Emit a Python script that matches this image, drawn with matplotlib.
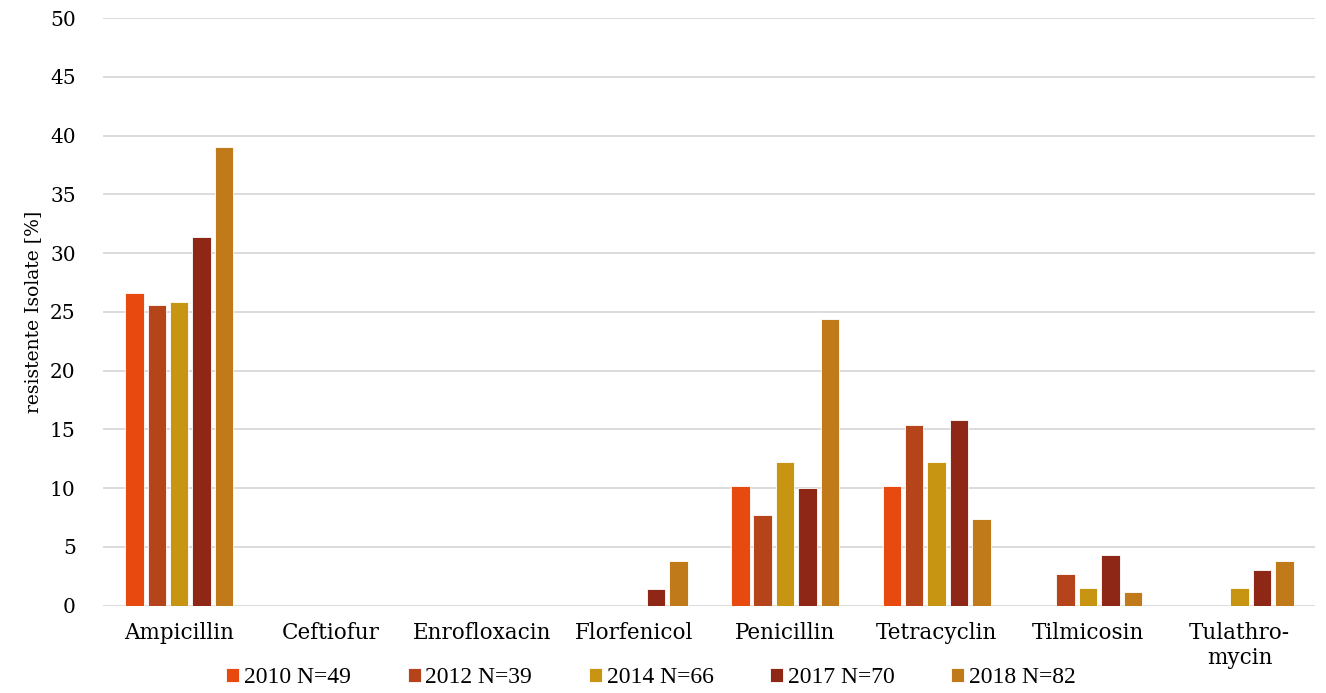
import matplotlib
matplotlib.use("Agg")
import matplotlib.pyplot as plt
import numpy as np

# data
categories = ["Ampicillin", "Ceftiofur", "Enrofloxacin", "Florfenicol",
              "Penicillin", "Tetracyclin", "Tilmicosin", "Tulathro-\nmycin"]
series = ["2010 N=49", "2012 N=39", "2014 N=66", "2017 N=70", "2018 N=82"]
v2010 = [26.6, 0, 0, 0, 10.2, 10.2, 0, 0]
v2012 = [25.6, 0, 0, 0, 7.7, 15.4, 2.7, 0]
v2014 = [25.8, 0, 0, 0, 12.2, 12.2, 1.5, 1.5]
v2017 = [31.4, 0, 0, 1.4, 10.0, 15.8, 4.3, 3.0]
v2018 = [39.0, 0, 0, 3.8, 24.4, 7.4, 1.2, 3.8]
values = [v2010, v2012, v2014, v2017, v2018]
colors = ["#E8490F", "#B5441A", "#C89512", "#8F2716", "#C17A1A"]

plt.rcParams["font.family"] = ["DejaVu Serif"]

fig = plt.figure(figsize=(13.26, 6.93), dpi=100)
ax = fig.add_axes([0.078, 0.126, 0.914, 0.848])

x = np.arange(len(categories))
pitch = 0.148
width = 0.122
for i, (vals, col, lab) in enumerate(zip(values, colors, series)):
    ax.bar(x + (i - 2) * pitch, vals, width, color=col, label=lab,
           edgecolor="white", linewidth=0.6, zorder=3)

ax.set_xlim(-0.5, len(categories) - 0.5)
ax.set_ylim(0, 50)
ax.set_yticks(range(0, 51, 5))
ax.set_xticks(x)
ax.set_xticklabels(categories, fontsize=15.5, linespacing=1.15)
ax.tick_params(axis="y", labelsize=14.5, length=0, pad=20)
ax.tick_params(axis="x", length=0, pad=12)
ax.grid(axis="y", color="#d9d9d9", linewidth=1.3, zorder=0)
ax.set_axisbelow(True)
for s in ax.spines.values():
    s.set_visible(False)
ax.set_ylabel("resistente Isolate [%]", fontsize=13.5, labelpad=6)

leg = fig.legend(loc="lower center", bbox_to_anchor=(0.491, -0.024), ncol=5,
                 frameon=False, handlelength=0.55, handleheight=0.55,
                 handletextpad=0.2, columnspacing=2.4,
                 prop={"family": "Liberation Serif", "size": 17})

fig.savefig("out.png", dpi=100)
